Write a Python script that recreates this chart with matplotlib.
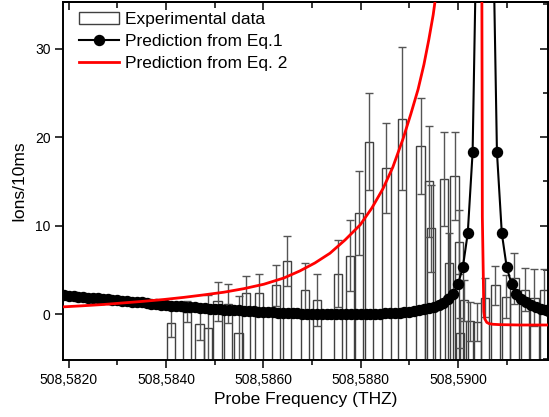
import matplotlib
matplotlib.use("Agg")
import matplotlib.pyplot as plt
from matplotlib.ticker import FixedLocator, FuncFormatter, NullFormatter
import numpy as np

plt.rcParams['font.family'] = ['Liberation Sans', 'DejaVu Sans']

# ---------------------------
# Experimental data (bars + symmetric error)
# ---------------------------
exp_freq = [508.58410, 508.58443, 508.58469, 508.58486, 508.58506, 508.58528,
            508.58549, 508.58565, 508.58591, 508.58626, 508.58648, 508.58685,
            508.58710, 508.58754, 508.58778, 508.58797, 508.58817, 508.58853,
            508.58885, 508.58923, 508.58941, 508.58945, 508.58971, 508.58981,
            508.58993, 508.59002, 508.59004, 508.59013, 508.59024, 508.59039,
            508.59055, 508.59077, 508.59098, 508.59116, 508.59137, 508.59157,
            508.59177]
exp_ions = [-1.0, 0.3, -1.05, -1.5, 1.5, 1.2,
            -2.1, 2.4, 2.4, 3.3, 6.0, 2.7,
            1.65, 4.6, 6.6, 11.4, 19.5, 16.5,
            22.1, 19.0, 15.0, 9.7, 15.3, 5.75,
            15.6, 8.2, -2.15, 1.6, -0.8, -0.85,
            1.9, 3.3, 2.0, 4.05, 2.8, 1.9,
            2.7]
exp_err = [1.55, 1.2, 1.8, 3.7, 2.2, 2.2,
           4.2, 1.9, 2.1, 2.3, 2.85, 3.1,
           2.95, 3.8, 4.0, 4.75, 5.45, 5.05,
           8.1, 5.4, 6.3, 4.9, 5.3, 3.45,
           5.0, 3.6, 1.7, 2.3, 2.2, 2.15,
           2.25, 2.2, 2.45, 2.85, 2.4, 3.2,
           2.4]

# ---------------------------
# Prediction from Eq.1 (dense scan, 0.1 GHz step)
# ---------------------------
eq1_freq = [508.5819, 508.5820, 508.5821, 508.5822, 508.5823, 508.5824, 508.5825, 508.5826, 508.5827, 508.5828,
            508.5829, 508.5830, 508.5831, 508.5832, 508.5833, 508.5834, 508.5835, 508.5836, 508.5837, 508.5838,
            508.5839, 508.5840, 508.5841, 508.5842, 508.5843, 508.5844, 508.5845, 508.5846, 508.5847, 508.5848,
            508.5849, 508.5850, 508.5851, 508.5852, 508.5853, 508.5854, 508.5855, 508.5856, 508.5857, 508.5858,
            508.5859, 508.5860, 508.5861, 508.5862, 508.5863, 508.5864, 508.5865, 508.5866, 508.5867, 508.5868,
            508.5869, 508.5870, 508.5871, 508.5872, 508.5873, 508.5874, 508.5875, 508.5876, 508.5877, 508.5878,
            508.5879, 508.5880, 508.5881, 508.5882, 508.5883, 508.5884, 508.5885, 508.5886, 508.5887, 508.5888,
            508.5889, 508.5890, 508.5891, 508.5892, 508.5893, 508.5894, 508.5895, 508.5896, 508.5897, 508.5898,
            508.5899, 508.5900, 508.5901, 508.5902, 508.5903, 508.5904, 508.5905, 508.5906, 508.5907, 508.5908,
            508.5909, 508.5910, 508.5911, 508.5912, 508.5913, 508.5914, 508.5915, 508.5916, 508.5917, 508.5918,
            508.5919]
eq1_ions = [2.15, 2.10, 2.05, 2.00, 1.95, 1.90, 1.85, 1.80, 1.75, 1.70,
            1.65, 1.60, 1.55, 1.50, 1.45, 1.40, 1.34, 1.28, 1.22, 1.16,
            1.10, 1.05, 1.00, 0.95, 0.91, 0.87, 0.82, 0.78, 0.73, 0.69,
            0.65, 0.61, 0.57, 0.54, 0.50, 0.47, 0.44, 0.40, 0.37, 0.34,
            0.31, 0.28, 0.25, 0.22, 0.20, 0.17, 0.15, 0.13, 0.11, 0.09,
            0.08, 0.06, 0.05, 0.04, 0.03, 0.02, 0.02, 0.01, 0.01, 0.01,
            0.01, 0.02, 0.03, 0.04, 0.06, 0.08, 0.10, 0.13, 0.17, 0.21,
            0.26, 0.32, 0.40, 0.50, 0.62, 0.75, 0.88, 1.05, 1.30, 1.70,
            2.35, 3.40, 5.35, 9.15, 18.3, 50.0, 460.0, 460.0, 50.0, 18.3,
            9.15, 5.35, 3.40, 2.35, 1.75, 1.35, 1.05, 0.80, 0.60, 0.45,
            0.30]

# ---------------------------
# Prediction from Eq. 2 (two branches around the pole)
# ---------------------------
eq2_freq_left = [508.58190, 508.58232, 508.58273, 508.58314, 508.58355, 508.58396,
                 508.58437, 508.58478, 508.58519, 508.58560, 508.58601, 508.58642,
                 508.58675, 508.58706, 508.58737, 508.58768, 508.58799, 508.58823,
                 508.58846, 508.58866, 508.58887, 508.58903, 508.58918, 508.58930,
                 508.58940, 508.58949, 508.58957]
eq2_ions_left = [0.85, 0.98, 1.12, 1.30, 1.48, 1.68,
                 1.92, 2.20, 2.50, 2.90, 3.40, 4.10,
                 4.90, 5.80, 6.90, 8.40, 10.1, 12.0,
                 14.2, 16.6, 19.8, 22.6, 25.4, 28.2,
                 31.0, 33.8, 37.0]
eq2_freq_right = [508.59049, 508.59050, 508.59052, 508.59053, 508.59055, 508.59059,
                  508.59064, 508.59072, 508.59086, 508.59127, 508.59189]
eq2_ions_right = [37.0, 11.0, 4.2, 0.3, -0.5, -0.9,
                  -1.05, -1.12, -1.16, -1.2, -1.2]

x_major = [508.582, 508.584, 508.586, 508.588, 508.590]
x_minor = [508.583, 508.585, 508.587, 508.589, 508.591]
y_major = [0, 10, 20, 30]
y_minor = [-5, 5, 15, 25, 35]

# ================
fig = plt.figure(figsize=(5.49, 4.17), dpi=100)
ax = fig.add_axes([63 / 549, 57 / 417, 485 / 549, 358 / 417])

base = -8.0
bars = ax.bar(exp_freq, np.array(exp_ions) - base, bottom=base, width=0.00017,
              fill=False, edgecolor='#404040', linewidth=1.0, zorder=2)
ax.errorbar(exp_freq, exp_ions, yerr=exp_err, fmt='none', ecolor='#555555',
            elinewidth=1.0, capsize=2.9, capthick=1.0, zorder=2)

l1, = ax.plot(eq1_freq, eq1_ions, color='black', lw=1.5, marker='o', ms=7.2,
              zorder=3)
l2, = ax.plot(eq2_freq_left, eq2_ions_left, color='red', lw=2.0, zorder=4)
ax.plot(eq2_freq_right, eq2_ions_right, color='red', lw=2.0, zorder=4)

ax.set_xlim(508.581884, 508.591849)
ax.set_ylim(-5.15, 35.25)

fmt = FuncFormatter(lambda v, p: f"{v:.4f}".replace('.', ','))
ax.xaxis.set_major_locator(FixedLocator(x_major))
ax.xaxis.set_minor_locator(FixedLocator(x_minor))
ax.xaxis.set_major_formatter(fmt)
ax.yaxis.set_major_locator(FixedLocator(y_major))
ax.yaxis.set_minor_locator(FixedLocator([]))
ax.tick_params(axis='both', which='major', direction='out', length=6, width=1.1,
               labelsize=10, pad=3)
ax.tick_params(axis='x', which='minor', direction='out', length=3.5, width=1.1)

# mirrored axes with inward ticks (top / right)
top = ax.secondary_xaxis('top')
top.xaxis.set_major_locator(FixedLocator(x_major))
top.xaxis.set_minor_locator(FixedLocator(x_minor))
top.xaxis.set_major_formatter(NullFormatter())
top.tick_params(which='major', direction='in', length=6, width=1.1)
top.tick_params(which='minor', direction='in', length=4, width=1.1)
right = ax.secondary_yaxis('right')
right.yaxis.set_major_locator(FixedLocator(y_major))
right.yaxis.set_minor_locator(FixedLocator(y_minor))
right.yaxis.set_major_formatter(NullFormatter())
right.tick_params(which='major', direction='in', length=6, width=1.1)
right.tick_params(which='minor', direction='in', length=3.5, width=1.1)

for sp in list(ax.spines.values()) + [top.spines['top'], right.spines['right']]:
    sp.set_linewidth(1.4)

ax.set_xlabel("Probe Frequency (THZ)", fontsize=12.5, labelpad=4)
ax.set_ylabel("Ions/10ms", fontsize=12.5, labelpad=6)

ax.legend([bars, l1, l2],
          ['Experimental data', 'Prediction from Eq.1', 'Prediction from Eq. 2'],
          loc='upper left', bbox_to_anchor=(0.033, 0.972), frameon=False,
          fontsize=12.5, borderpad=0, borderaxespad=0, handlelength=2.3,
          handletextpad=0.35, labelspacing=0.38)

plt.savefig("out.png", dpi=100)
